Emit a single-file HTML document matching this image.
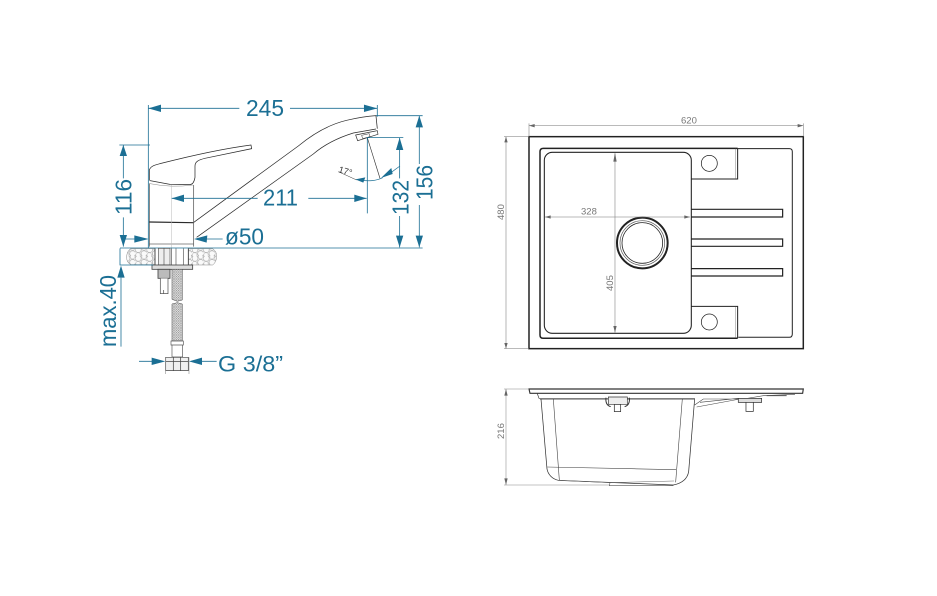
<!DOCTYPE html>
<html><head><meta charset="utf-8"><title>Sink and faucet dimensions</title>
<style>html,body{margin:0;padding:0;background:#fff}svg{display:block;filter:blur(.3px)}
text{font-family:"Liberation Sans",sans-serif}</style></head>
<body>
<svg xmlns="http://www.w3.org/2000/svg" width="937" height="596" viewBox="0 0 937 596">
<defs>
<pattern id="hose" width="7" height="7" patternUnits="userSpaceOnUse"><rect width="7" height="7" fill="#e8e8e8"/><path d="M0 0L7 7M7 0L0 7" stroke="#777" stroke-width="1.3"/></pattern>
<pattern id="stone" width="34" height="26" patternUnits="userSpaceOnUse"><rect width="34" height="26" fill="#fafafa"/><circle cx="9" cy="7" r="9" fill="none" stroke="#888" stroke-width="1.5"/><circle cx="26" cy="19" r="9" fill="none" stroke="#888" stroke-width="1.5"/><circle cx="26" cy="2" r="7" fill="none" stroke="#999" stroke-width="1.3"/><circle cx="8" cy="23" r="7" fill="none" stroke="#999" stroke-width="1.3"/></pattern>
</defs>
<!-- faucet, upper -->
<g transform="translate(90,90) scale(.3333)" fill="none" stroke="#2b2b2b" stroke-width="2.2">
<path d="M310 398L625 168C665 135 715 104 770 91C800 84 830 79 858 77L862 116"/>
<path d="M320 442L670 192C705 162 745 143 790 129L858 117"/>
<path d="M797 135L862 122L864 133L803 152Z" stroke-width="2"/><path d="M815 136L838 131L840 140L818 146Z" stroke-width="1.5"/>
<path d="M178 272V240C182 228 195 225 210 221C300 198 400 176 483 165L485 176L345 205C325 210 315 215 315 228V262C313 275 308 283 300 284L240 283L180 272"/>
<path d="M178 280V470M311 285V470" stroke="#555"/>
<path d="M180 281Q245 294 309 285" stroke="#888" stroke-width="1.5"/>
<path d="M178 396L310 398" stroke-width="3.5"/>
<path d="M178 462H312" stroke="#666"/>
<path d="M245 285V474" stroke="#bbb" stroke-width="1.5"/>
<path d="M832 143L870 265" stroke="#333" stroke-width="2"/>
<path d="M745 245L800 270" stroke="#333" stroke-width="1.5"/>
<path d="M812 270C835 275 860 272 878 263" stroke="#1b6f94" stroke-width="2.2"/>
<path d="M900 250L930 228" stroke="#1b6f94" stroke-width="2"/>
</g>
<g transform="translate(90,90) scale(.3333)" stroke="#1b6f94" stroke-width="2.4" fill="none">
<path d="M175 45V474M175 55H448M600 55H862M862 45V80"/>
<path d="M88 165H180M100 165V265M100 382V470"/>
<path d="M830 143H940M929 143V265M929 378V472"/>
<path d="M858 77H998M988 77V222M988 345V472"/>
<path d="M245 325H503M655 325H830M832 143V370"/>
<path d="M102 447H140M345 447H398"/>
<path d="M90 474H998"/>
<g fill="#1b6f94" stroke="none">
<path d="M175 55L213 44V66ZM862 55L822 44V66Z"/>
<path d="M100 165L89 198H111ZM100 470L89 435H111Z"/>
<path d="M929 143L918 180H940ZM929 472L918 437H940Z"/>
<path d="M988 77L977 112H999ZM988 472L977 437H999Z"/>
<path d="M245 325L282 314V336ZM830 325L793 314V336Z"/>
<path d="M176 447L133 436V458ZM312 447L352 436L350 458Z"/>
<path d="M796 268L826 262L820 278ZM873 264L904 234L908 252Z"/>
</g>
</g>
<g fill="#1b6f94">
<text x="246" y="116" font-size="23" textLength="38" lengthAdjust="spacingAndGlyphs">245</text>
<text x="263" y="205.500" font-size="23" textLength="35" lengthAdjust="spacingAndGlyphs">211</text>
<text x="225" y="244.500" font-size="23" textLength="39" lengthAdjust="spacingAndGlyphs">ø50</text>
<text transform="translate(131.500,215) rotate(-90)" font-size="23" textLength="36" lengthAdjust="spacingAndGlyphs">116</text>
<text transform="translate(408.500,215) rotate(-90)" font-size="23" textLength="35" lengthAdjust="spacingAndGlyphs">132</text>
<text transform="translate(432.500,200) rotate(-90)" font-size="23" textLength="35" lengthAdjust="spacingAndGlyphs">156</text>
<text transform="translate(116,347) rotate(-90)" font-size="23" textLength="72" lengthAdjust="spacingAndGlyphs">max.40</text>
<text x="218" y="371.500" font-size="22" textLength="65" lengthAdjust="spacingAndGlyphs">G 3/8”</text>
</g>
<text transform="translate(338,172) rotate(17)" font-size="9" fill="#333">17°</text>
<!-- faucet, lower -->
<g transform="translate(90,230) scale(.3333)">
<path d="M122 56H195V104H122Q108 96 110 78Q112 62 122 56ZM295 56H368Q382 66 380 82Q378 98 368 105H295Z" fill="url(#stone)" stroke="#888" stroke-width="1.5"/>
<path d="M195 55V105M295 55V105" stroke="#333" stroke-width="2.5"/>
<rect x="205" y="55" width="35" height="50" fill="#eee" stroke="#555" stroke-width="2"/>
<path d="M222 55V105M245 55V105M258 55V105M280 55V105" stroke="#555" stroke-width="2"/>
<rect x="186" y="105" width="122" height="13" fill="#ddd" stroke="#444" stroke-width="2.5"/>
<rect x="204" y="118" width="36" height="27" fill="#bbb" stroke="#444" stroke-width="2.5"/>
<path d="M211 145V191H234V145M221 180V191" fill="#fff" stroke="#555" stroke-width="2.2"/>
<path d="M246 118H277V210L262 214L246 208Z" fill="url(#hose)" stroke="#444" stroke-width="1.5"/>
<path d="M246 222L262 218L277 222V333H246Z" fill="url(#hose)" stroke="#444" stroke-width="1.5"/>
<path d="M243 333H280V345H243ZM246 345H278V381H246Z" fill="#fff" stroke="#555" stroke-width="2"/>
<path d="M227 382H295V422H227ZM227 395H295M250 382V422M272 382V422" fill="#f0f0f0" stroke="#444" stroke-width="2.2"/>
<g stroke="#1b6f94" stroke-width="2.4" fill="none">
<path d="M90 55V105H190M93 143V350"/>
<path d="M147 394H190M335 394H380"/>
</g>
<path d="M227 382V432M297 382V432" stroke="#777" stroke-width="1.5"/>
<path d="M93 107L82 143H104ZM226 394L185 383V405ZM297 394L336 383V405Z" fill="#1b6f94"/>
</g>
<!-- sink top view -->
<g transform="translate(490,110) scale(.3333)" fill="none" stroke="#222">
<rect x="117" y="80" width="823" height="636" stroke-width="4.500"/>
<path d="M743 115H160Q150 115 150 125V675Q150 685 160 685H743" stroke-width="4.500"/>
<path d="M743 116H898Q907 116 907 125V672Q907 682 898 682H745" stroke-width="3"/>
<rect x="163" y="127" width="441" height="543" rx="24" stroke-width="3.200"/>
<path d="M604 207H743V115M604 589H743V685" stroke-width="3"/>
<path d="M736 116V205M736 590V684" stroke-width="1.200" stroke="#666"/>
<circle cx="658" cy="160" r="24" stroke-width="2.200"/><circle cx="658" cy="636" r="24" stroke-width="2.200"/>
<circle cx="457" cy="399" r="76" stroke-width="6"/>
<circle cx="457" cy="399" r="67" stroke-width="2" stroke="#555"/>
<circle cx="457" cy="399" r="61" stroke-width="2.400"/>
<path d="M604 298H878V321H604M604 387H878V409H604M604 476H878V498H604" stroke-width="3.600"/>
<g stroke="#777" stroke-width="1.600">
<path d="M117 47H940M117 40V80M940 40V80"/>
<path d="M42 80H117M42 716H117M48 80V716"/>
<path d="M165 321H600M375 130V668"/>
</g>
<path d="M117 47L134 42V52ZM940 47L923 42V52ZM48 80L43 97H53ZM48 716L43 699H53ZM165 321L182 316V326ZM600 321L583 316V326ZM375 128L370 155H380ZM375 668L370 648H380Z" fill="#666" stroke="none"/>
</g>
<g fill="#777">
<text x="681" y="123.500" font-size="9.500">620</text>
<text x="581" y="214.500" font-size="9.500">328</text>
<text transform="translate(504,220) rotate(-90)" font-size="9.500">480</text>
<text transform="translate(613,291) rotate(-90)" font-size="9.500">405</text>
<text transform="translate(504,439) rotate(-90)" font-size="9.500">216</text>
</g>
<!-- sink side view -->
<g transform="translate(490,375) scale(.3333)" fill="none" stroke="#333">
<path d="M117 42H940L938 55H120Z" stroke-width="3.500" fill="#fff"/>
<path d="M142 56L147 70H615" stroke-width="2"/>
<path d="M150 74H612" stroke="#777" stroke-width="2"/>
<path d="M153 72L171 282C174 298 186 312 205 316L355 322L550 330C575 325 592 312 596 290L614 72" stroke-width="2.200"/>
<path d="M190 72L208 315M577 72L557 322" stroke-width="1.800" stroke="#444"/>
<path d="M172 276L558 284" stroke="#444" stroke-width="1.800"/>
<path d="M205 316L360 323L552 318" stroke="#666" stroke-width="1.500"/>
<path d="M360 323L358 332H550" stroke="#555" stroke-width="1.800"/>
<path d="M348 68C346 85 352 92 362 95M418 68C420 85 414 92 404 95" stroke-width="3"/>
<path d="M355 66H412V88H355Z" stroke-width="2" fill="#eee"/>
<path d="M373 88H392V110H373Z" stroke-width="2.200" fill="#fff"/>
<path d="M614 90L640 72H760L820 62L915 58M620 96L750 72M630 82L745 70" stroke-width="1.800" stroke="#444"/>
<path d="M745 70H815V82H745Z" stroke-width="2.200" fill="#ddd"/>
<path d="M768 82H790V109H768Z" stroke-width="2.200" fill="#fff"/>
<path d="M830 62H890" stroke-width="3" stroke="#555"/>
<g stroke="#888" stroke-width="1.600">
<path d="M42 42H117M42 330H360M48 42V330"/>
</g>
<path d="M48 42L43 62H53ZM48 330L43 310H53Z" fill="#666" stroke="none"/>
</g>
</svg>
</body></html>
